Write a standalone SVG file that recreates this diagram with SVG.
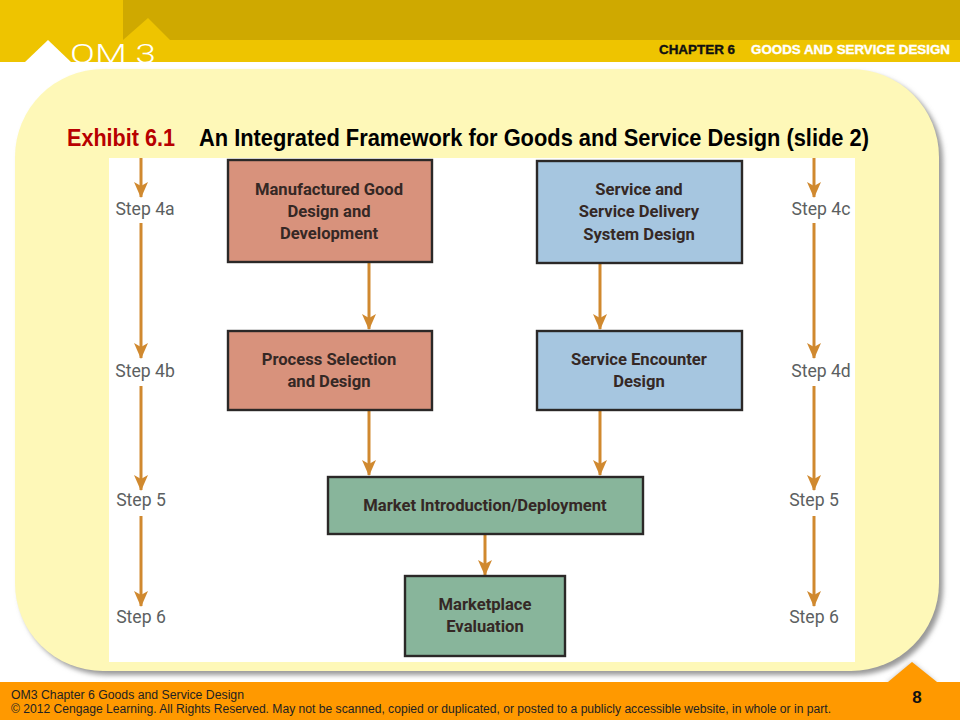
<svg xmlns="http://www.w3.org/2000/svg" width="960" height="720" viewBox="0 0 960 720">
<defs>
<style>
.lab{font-family:"Roboto","Liberation Sans",sans-serif;font-size:16.6px;font-weight:700;fill:#352825;text-anchor:middle}
.step{font-family:"Roboto","Liberation Sans",sans-serif;font-size:17.6px;fill:#5c5f61;text-anchor:middle}
.box{stroke:#2b2827;stroke-width:2.4}
.red{fill:#d8927c}.blue{fill:#a6c6e0}.green{fill:#88b59b}
.c{stroke:#d0892f;stroke-width:3;fill:none;marker-end:url(#a)}
.foot{font-family:"Liberation Sans",sans-serif;font-size:12.5px;fill:#222}
.hdr{font-family:"Liberation Sans",sans-serif;font-size:12px;font-weight:700;stroke-width:.35}
.title{font-family:"Liberation Sans",sans-serif;font-size:23.5px;font-weight:700}
</style>
<marker id="a" markerUnits="userSpaceOnUse" markerWidth="16" markerHeight="14" refX="15" refY="7" orient="auto"><path d="M0,0L16,7L0,14L4,7Z" fill="#d0892f"/></marker>
<filter id="s" x="-5%" y="-5%" width="110%" height="110%"><feGaussianBlur stdDeviation="2.5"/></filter>
</defs>
<rect width="960" height="720" fill="#fff"/>
<rect width="960" height="62" fill="#eec400"/>
<rect x="123" width="837" height="40" fill="#cfa900"/>
<path d="M123,40L148,18L170,40Z" fill="#eec400"/>
<path d="M25,62L48,40L71,62Z" fill="#fff"/>
<text x="70" y="63" font-family="Roboto,'Liberation Sans',sans-serif" font-weight="300" font-size="25" fill="#fff" textLength="86" lengthAdjust="spacingAndGlyphs">OM 3</text>
<text x="659" y="54" class="hdr" fill="#111" stroke="#111" textLength="76" lengthAdjust="spacingAndGlyphs">CHAPTER 6</text>
<text x="751" y="54" class="hdr" fill="#fff" stroke="#fff" textLength="199" lengthAdjust="spacingAndGlyphs">GOODS AND SERVICE DESIGN</text>
<rect x="19" y="73" width="924" height="602" rx="88" fill="#999" filter="url(#s)"/>
<rect x="15" y="69" width="924" height="602" rx="88" fill="#fef8b8"/>
<text x="67" y="146" class="title" fill="#b80000" textLength="108" lengthAdjust="spacingAndGlyphs">Exhibit 6.1</text>
<text x="199" y="146" class="title" fill="#000" textLength="670" lengthAdjust="spacingAndGlyphs">An Integrated Framework for Goods and Service Design (slide 2)</text>
<rect x="109" y="158" width="746" height="504" fill="#fff"/>
<g id="connectors">
<path class="c" d="M141,158V197"/><path class="c" d="M141,223V358"/><path class="c" d="M141,386V490"/><path class="c" d="M141,516V606"/>
<path class="c" d="M814,158V197"/><path class="c" d="M814,223V358"/><path class="c" d="M814,386V490"/><path class="c" d="M814,516V606"/>
<path class="c" d="M369,263V329"/><path class="c" d="M600,263V329"/><path class="c" d="M369,411V475"/><path class="c" d="M600,411V475"/><path class="c" d="M485,535V575"/>
</g>
<g id="steps">
<text class="step" x="145" y="215">Step 4a</text><text class="step" x="145" y="377">Step 4b</text><text class="step" x="141" y="506">Step 5</text><text class="step" x="141" y="623">Step 6</text>
<text class="step" x="821" y="215">Step 4c</text><text class="step" x="821" y="377">Step 4d</text><text class="step" x="814" y="506">Step 5</text><text class="step" x="814" y="623">Step 6</text>
</g>
<g id="n1"><rect class="box red" x="228" y="160" width="204" height="102"/><text class="lab" x="329" y="195">Manufactured Good</text><text class="lab" x="329" y="217">Design and</text><text class="lab" x="329" y="239">Development</text></g>
<g id="n2"><rect class="box blue" x="537" y="161" width="205" height="102"/><text class="lab" x="639" y="195">Service and</text><text class="lab" x="639" y="217">Service Delivery</text><text class="lab" x="639" y="240">System Design</text></g>
<g id="n3"><rect class="box red" x="228" y="331" width="204" height="79"/><text class="lab" x="329" y="365">Process Selection</text><text class="lab" x="329" y="387">and Design</text></g>
<g id="n4"><rect class="box blue" x="537" y="331" width="205" height="79"/><text class="lab" x="639" y="365">Service Encounter</text><text class="lab" x="639" y="387">Design</text></g>
<g id="n5"><rect class="box green" x="328" y="477" width="315" height="57"/><text class="lab" x="485" y="511">Market Introduction/Deployment</text></g>
<g id="n6"><rect class="box green" x="405" y="576" width="160" height="80"/><text class="lab" x="485" y="610">Marketplace</text><text class="lab" x="485" y="632">Evaluation</text></g>
<path d="M886,684L912,662L938,684Z" fill="#999" filter="url(#s)" opacity=".6"/>
<rect y="682" width="960" height="38" fill="#ff9900"/>
<path d="M888,682L912,662L937,682Z" fill="#ff9900"/>
<text x="11" y="699" class="foot" textLength="233" lengthAdjust="spacingAndGlyphs">OM3 Chapter 6  Goods and Service Design</text>
<text x="11" y="713" class="foot" textLength="820" lengthAdjust="spacingAndGlyphs">© 2012 Cengage Learning.  All Rights Reserved.  May not be scanned, copied or duplicated, or posted to a publicly accessible website, in whole or in part.</text>
<text x="917" y="703" font-family="'Liberation Sans',sans-serif" font-size="17" font-weight="700" text-anchor="middle" fill="#111">8</text>
</svg>
